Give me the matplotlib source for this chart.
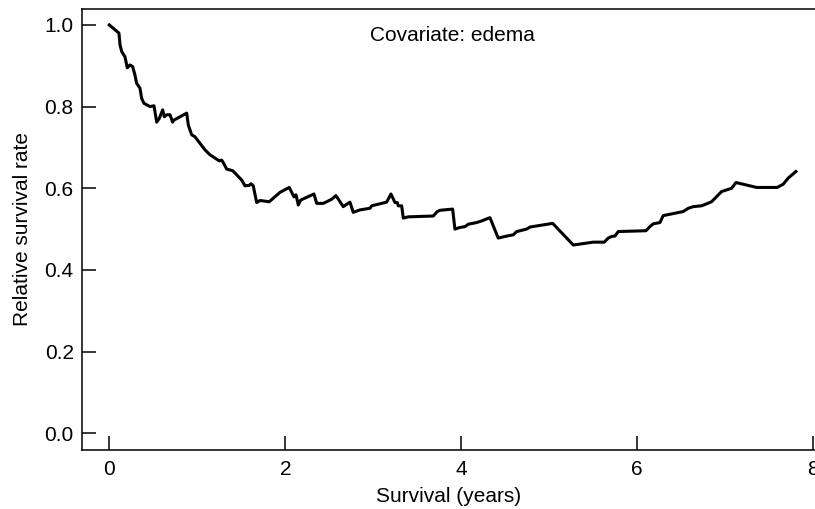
import matplotlib
matplotlib.use("Agg")
import matplotlib.pyplot as plt

plt.rcParams['font.family'] = ['Liberation Sans', 'DejaVu Sans']

years = [0.000, 0.110, 0.122, 0.141, 0.178, 0.205, 0.235, 0.266, 0.292, 0.311,
         0.349, 0.368, 0.394, 0.463, 0.508, 0.539, 0.568, 0.607, 0.625, 0.652,
         0.690, 0.720, 0.735, 0.880, 0.898, 0.936, 0.974, 1.031, 1.088, 1.144,
         1.250, 1.277, 1.295, 1.334, 1.402, 1.448, 1.505, 1.542, 1.591, 1.610,
         1.636, 1.675, 1.713, 1.818, 1.940, 2.045, 2.099, 2.122, 2.148, 2.175,
         2.326, 2.357, 2.432, 2.527, 2.576, 2.659, 2.735, 2.773, 2.849, 2.963,
         2.982, 3.152, 3.201, 3.247, 3.273, 3.284, 3.323, 3.341, 3.398, 3.682,
         3.727, 3.758, 3.902, 3.928, 3.985, 4.042, 4.080, 4.175, 4.232, 4.326,
         4.420, 4.497, 4.591, 4.630, 4.743, 4.781, 4.894, 5.039, 5.273, 5.500,
         5.625, 5.670, 5.709, 5.747, 5.784, 6.099, 6.144, 6.182, 6.258, 6.295,
         6.523, 6.580, 6.636, 6.732, 6.845, 6.959, 7.016, 7.073, 7.122, 7.357,
         7.591, 7.659, 7.716, 7.803]
rate = [1.000, 0.980, 0.951, 0.935, 0.922, 0.895, 0.902, 0.898, 0.877, 0.857,
        0.845, 0.820, 0.808, 0.800, 0.802, 0.762, 0.771, 0.792, 0.775, 0.780,
        0.780, 0.762, 0.767, 0.784, 0.755, 0.731, 0.726, 0.710, 0.694, 0.682,
        0.667, 0.669, 0.663, 0.647, 0.643, 0.633, 0.620, 0.606, 0.607, 0.611,
        0.606, 0.565, 0.570, 0.567, 0.590, 0.602, 0.579, 0.584, 0.559, 0.571,
        0.586, 0.563, 0.563, 0.573, 0.582, 0.555, 0.566, 0.541, 0.547, 0.551,
        0.557, 0.566, 0.586, 0.565, 0.565, 0.557, 0.557, 0.527, 0.530, 0.532,
        0.543, 0.546, 0.549, 0.500, 0.504, 0.506, 0.512, 0.516, 0.520, 0.528,
        0.478, 0.482, 0.486, 0.494, 0.500, 0.505, 0.509, 0.514, 0.461, 0.468,
        0.468, 0.478, 0.482, 0.483, 0.494, 0.496, 0.506, 0.513, 0.516, 0.533,
        0.543, 0.551, 0.555, 0.557, 0.567, 0.592, 0.596, 0.600, 0.614, 0.602,
        0.602, 0.610, 0.625, 0.641]

x_ticks = [0, 2, 4, 6, 8]
y_ticks = [0.0, 0.2, 0.4, 0.6, 0.8, 1.0]
y_tick_labels = ["0.0", "0.2", "0.4", "0.6", "0.8", "1.0"]

fig = plt.figure(figsize=(8.15, 5.09), dpi=100)
ax = fig.add_axes([82/815, 1 - 450/509, 1 - 82/815, (450 - 9)/509])

ax.plot(years, rate, color='black', lw=2.2, solid_joinstyle='round')

ax.set_xlim(-0.31, 8.02)
ax.set_ylim(-0.041, 1.039)
ax.set_xticks(x_ticks)
ax.set_yticks(y_ticks)
ax.set_yticklabels(y_tick_labels)

for s in ['left', 'bottom', 'top']:
    ax.spines[s].set_linewidth(1.1)
ax.spines['right'].set_visible(False)

ax.tick_params(direction='in', length=10, width=1.1, labelsize=15, pad=7)
ax.tick_params(axis='y', pad=6)

ax.set_xlabel("Survival (years)", fontsize=15, labelpad=6)
ax.set_ylabel("Relative survival rate", fontsize=15, labelpad=9)

ax.text(3.9, 0.975, "Covariate: edema", fontsize=15, ha='center', va='center')

fig.savefig("out.png", dpi=100)
